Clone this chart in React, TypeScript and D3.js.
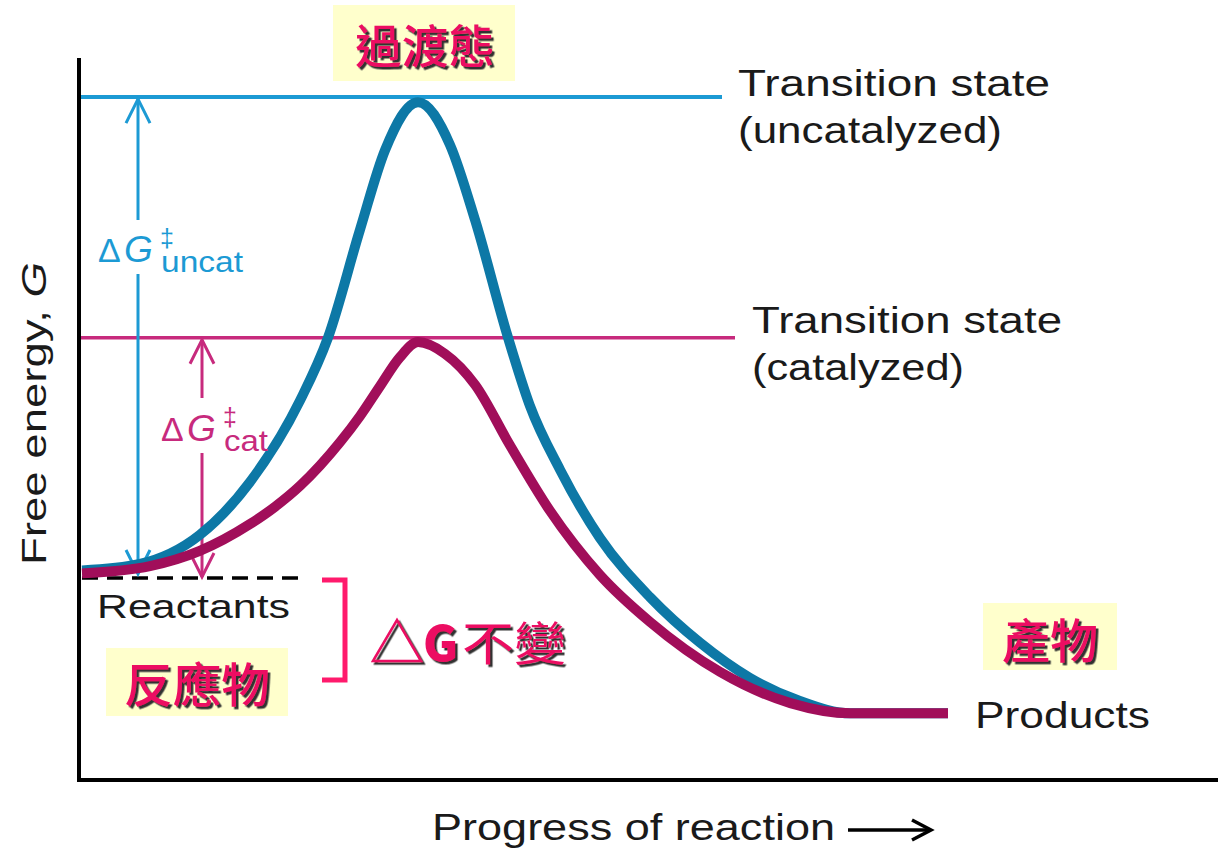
import React from "react";
import * as d3 from "d3";

// Reaction progress (0..100) and free energy (0..100 arbitrary units)
const progress = [0, 6.7, 13.6, 19.4, 25.2, 28.4, 32.1, 35.0, 38.8, 42.5, 45.4, 49.2, 51.7, 55.2, 59.8, 65.6, 71.4, 77.1, 82.9, 88.7, 100];
const gUncat = [28.9, 29.8, 33.8, 41.1, 52.4, 61.0, 75.9, 86.9, 93.5, 87.6, 77.2, 61.0, 51.7, 42.8, 33.4, 25.2, 18.9, 14.1, 10.9, 9.2, 9.2];
const progressCat = [0, 7.85, 13.6, 19.4, 22.3, 25.2, 27.5, 29.8, 32.1, 34.4, 36.7, 38.8, 41.9, 45.4, 49.4, 54.0, 59.8, 65.6, 73.7, 81.8, 88.7, 100];
const gCat = [28.5, 29.5, 31.6, 35.3, 37.7, 40.6, 43.4, 46.6, 50.2, 54.3, 58.3, 60.4, 58.8, 54.5, 46.2, 37.2, 28.3, 21.8, 14.9, 10.6, 9.2, 9.2];

const levels = { reactants: 28.0, products: 9.2, tsUncat: 94.2, tsCat: 61.0 };

const W = 1218;
const H = 851;

const x = d3.scaleLinear().domain([0, 100]).range([82, 948]);
const y = d3.scaleLinear().domain([0, 100]).range([780, 55]);

const line = d3
  .line<[number, number]>()
  .x((d) => x(d[0]))
  .y((d) => y(d[1]))
  .curve(d3.curveMonotoneX);

const LAT = "'Liberation Sans', Arial, sans-serif";
const CJK = "'Noto Sans CJK TC', 'Noto Sans CJK SC', sans-serif";
const BLUE_LINE = "#1c9ad4";
const BLUE_CURVE = "#0d78a6";
const PINK_LINE = "#c72a7d";
const PINK_CURVE = "#a10e5a";
const HOT = "#ec0b62";

function Arrow({ xp, y1, y2, gapTop, gapBot, color }: any) {
  const hw = 12;
  const hl = 24;
  return (
    <g stroke={color} strokeWidth={3} fill="none">
      <line x1={xp} y1={y1} x2={xp} y2={gapTop} />
      <line x1={xp} y1={gapBot} x2={xp} y2={y2} />
      <polyline points={`${xp - hw},${y1 + hl} ${xp},${y1} ${xp + hw},${y1 + hl}`} />
      <polyline points={`${xp - hw},${y2 - hl} ${xp},${y2} ${xp + hw},${y2 - hl}`} />
    </g>
  );
}

function Hot({ tx, ty, size, children, weight = 500, len }: any) {
  const extra: any = {};
  if (len) {
    extra.textLength = len;
    extra.lengthAdjust = "spacingAndGlyphs";
  }
  return (
    <text
      x={tx}
      y={ty}
      fill={HOT}
      fontFamily={CJK}
      fontSize={size}
      fontWeight={weight}
      filter="url(#shadow)"
      {...extra}
    >
      {children}
    </text>
  );
}

function DeltaG({ tx, ty, sub, color, subLen }: any) {
  return (
    <text x={tx} y={ty} fill={color} fontFamily={LAT} fontSize={34}>
      <tspan>Δ</tspan>
      <tspan x={tx + 26} fontSize={37} fontStyle="italic">G</tspan>
      <tspan x={tx + 62} y={ty - 15} fontSize={25}>‡</tspan>
      <tspan x={tx + 63} y={ty + 10} fontSize={30} textLength={subLen} lengthAdjust="spacingAndGlyphs">
        {sub}
      </tspan>
    </text>
  );
}

export default function App() {
  const uncatData: [number, number][] = progress.map((p, i) => [p, gUncat[i]]);
  const catData: [number, number][] = progressCat.map((p, i) => [p, gCat[i]]);
  const yR = y(levels.reactants);
  const yTU = y(levels.tsUncat);
  const yTC = y(levels.tsCat);
  const axisY = y(0);

  return (
    <svg
      width={W}
      height={H}
      style={{ position: "absolute", left: 0, top: 0, background: "#fff" }}
    >
      <defs>
        <filter id="shadow" x="-10%" y="-10%" width="130%" height="130%">
          <feDropShadow dx={2.5} dy={2.5} stdDeviation={0.4} floodColor="#333" floodOpacity={1} />
        </filter>
      </defs>
      <rect x={0} y={0} width={W} height={H} fill="#fff" />

      {/* Chinese label boxes */}
      <rect x={333} y={5} width={182} height={76} fill="#ffffcc" />
      <rect x={106} y={648} width={182} height={68} fill="#ffffcc" />
      <rect x={983} y={603} width={134} height={67} fill="#ffffcc" />

      {/* axes */}
      <line x1={79} y1={58} x2={79} y2={axisY + 2} stroke="#000" strokeWidth={4} />
      <line x1={77} y1={axisY} x2={W} y2={axisY} stroke="#000" strokeWidth={4} />

      {/* transition state levels */}
      <line x1={81} y1={yTU} x2={722} y2={yTU} stroke={BLUE_LINE} strokeWidth={4} />
      <line x1={81} y1={yTC} x2={735} y2={yTC} stroke={PINK_LINE} strokeWidth={3.5} />

      {/* reactants dashed level */}
      <line
        x1={82}
        y1={yR + 1}
        x2={304}
        y2={yR + 1}
        stroke="#000"
        strokeWidth={3.5}
        strokeDasharray="16 9"
      />

      {/* arrows */}
      <Arrow xp={138} y1={yTU + 2} y2={yR - 3} gapTop={220} gapBot={274} color={BLUE_LINE} />
      <Arrow xp={202} y1={yTC + 2} y2={yR} gapTop={398} gapBot={453} color={PINK_LINE} />

      {/* curves */}
      <path d={line(uncatData) || ""} fill="none" stroke={BLUE_CURVE} strokeWidth={10} strokeLinecap="butt" />
      <path d={line(catData) || ""} fill="none" stroke={PINK_CURVE} strokeWidth={10} strokeLinecap="butt" />

      {/* delta G labels */}
      <DeltaG tx={98} ty={262} sub="uncat" subLen={82} color={BLUE_LINE} />
      <DeltaG tx={161} ty={441} sub="cat" subLen={44} color={PINK_LINE} />

      {/* English labels */}
      <g fill="#1a1a1a" fontFamily={LAT} fontSize={36}>
        <text x={738} y={96} textLength={312} lengthAdjust="spacingAndGlyphs">Transition state</text>
        <text x={738} y={143} textLength={264} lengthAdjust="spacingAndGlyphs">(uncatalyzed)</text>
        <text x={752} y={333} textLength={310} lengthAdjust="spacingAndGlyphs">Transition state</text>
        <text x={752} y={380} textLength={212} lengthAdjust="spacingAndGlyphs">(catalyzed)</text>
        <text x={97} y={618} fontSize={33} textLength={193} lengthAdjust="spacingAndGlyphs">Reactants</text>
        <text x={975} y={728} textLength={175} lengthAdjust="spacingAndGlyphs">Products</text>
        <text x={432} y={840} textLength={403} lengthAdjust="spacingAndGlyphs">Progress of reaction</text>
        <text
          transform="translate(46,565) rotate(-90)"
          x={0}
          y={0}
          fontSize={35}
          textLength={303}
          lengthAdjust="spacingAndGlyphs"
        >
          Free energy, <tspan fontStyle="italic">G</tspan>
        </text>
      </g>

      {/* progress arrow */}
      <g stroke="#000" strokeWidth={3.5} fill="none">
        <line x1={848} y1={830} x2={928} y2={830} />
        <polyline points="912,820 931,830 912,840" />
      </g>

      {/* bracket */}
      <polyline points="322,580 345,580 345,680 322,680" fill="none" stroke="#ff1a6c" strokeWidth={5} />

      {/* Chinese text */}
      <Hot tx={355} ty={63} size={46} len={140}>過渡態</Hot>
      <Hot tx={124} ty={702} size={47} len={146}>反應物</Hot>
      <Hot tx={1002} ty={658} size={47} len={96}>產物</Hot>

      {/* △G不變 */}
      <g filter="url(#shadow)">
        <polygon points="373,661 397,620 421,661" fill="none" stroke={HOT} strokeWidth={2.5} />
      </g>
      <Hot tx={423} ty={661} size={48} weight={900}>G</Hot>
      <Hot tx={462} ty={660} size={46} weight={400} len={104}>不變</Hot>
    </svg>
  );
}
